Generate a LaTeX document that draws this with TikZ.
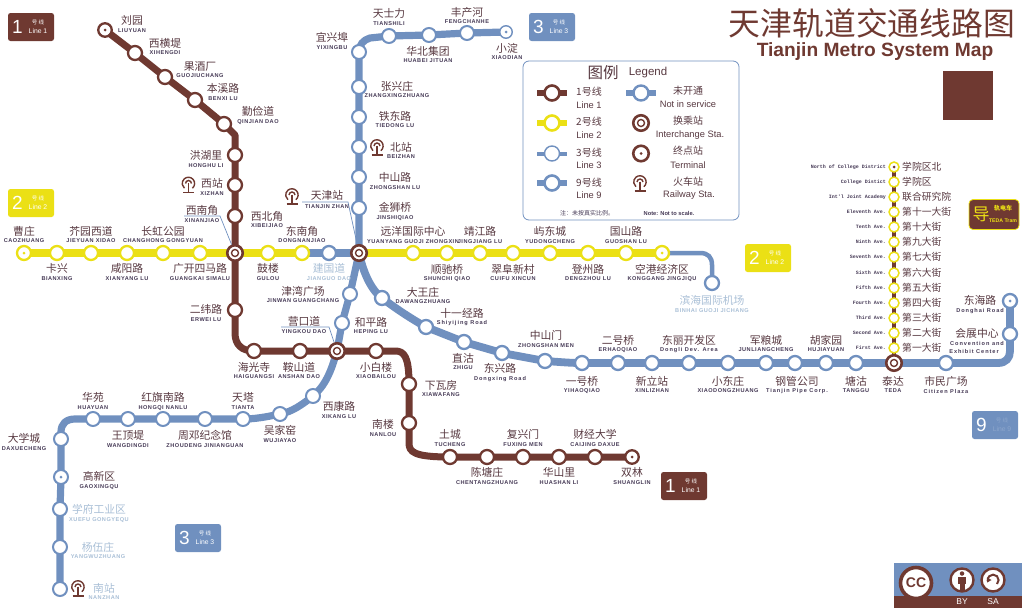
\documentclass[tikz,border=0pt]{standalone}
\usetikzlibrary{shapes.geometric}
\usepackage{fontspec}
\setmainfont{Liberation Sans}
\newfontfamily\cjk{Noto Sans CJK SC}
\newfontfamily\latf[LetterSpace=9]{Liberation Sans}
\newfontfamily\latg[LetterSpace=17]{Liberation Sans}
\newfontfamily\latm{Liberation Mono}
\definecolor{brn}{HTML}{6F3931}
\definecolor{blu}{HTML}{7090BF}
\definecolor{yel}{HTML}{EBE015}
\definecolor{faint}{HTML}{A9BFD6}
\definecolor{ink}{HTML}{573840}
\definecolor{lnk}{HTML}{463A56}
\pgfdeclarelayer{lines}
\pgfsetlayers{lines,main}
\tikzset{
  x=1pt,y=-1pt,
  stbase/.style={circle,fill=white,inner sep=0pt,minimum size=14pt,line width=2.3pt},
  s1/.style={stbase,draw=brn},
  s2/.style={stbase,draw=yel},
  s3/.style={stbase,draw=blu,line width=2pt},
  s9/.style={stbase,draw=blu,line width=2.3pt},
  st/.style={stbase,draw=yel,minimum size=10pt,line width=1.5pt},
  ic/.style={circle,fill=white,draw=brn,inner sep=0pt,minimum size=15.5pt,line width=2.6pt},
  icin/.style={circle,fill=white,draw=brn,inner sep=0pt,minimum size=7pt,line width=1.4pt},
  dt/.style={circle,inner sep=0pt,minimum size=3pt,fill=#1},
  l1/.style={draw=brn,line width=7pt,line join=round},
  l2/.style={draw=yel,line width=7.5pt,line join=round},
  l3/.style={draw=blu,line width=7.2pt,line join=round},
  l9/.style={draw=blu,line width=7.8pt,line join=round},
  ltram/.style={draw=brn,line width=4pt},
  ln/.style={draw=blu,line width=4.5pt},
  lead/.style={draw=blu,line width=0.7pt},
  clab/.style={inner sep=0pt,text=ink,font=\cjk\fontsize{10.8}{12}\selectfont},
  llab/.style={inner sep=0pt,text=lnk,font=\latf\bfseries\fontsize{5.6}{6}\selectfont},
  tlat/.style={inner sep=0pt,anchor=east,text=lnk,font=\latm\bfseries\fontsize{5}{6}\selectfont},
  lgc/.style={inner sep=0pt,text=ink,font=\cjk\fontsize{10}{11}\selectfont},
  lgl/.style={inner sep=0pt,text=ink,font=\fontsize{9.3}{10}\selectfont},
  bd/.style={rounded corners=2.5pt,inner sep=0pt,minimum width=46pt,minimum height=28pt,fill=#1},
}
\newcommand{\mx}[1]{{\latg\bfseries #1}}
% id x ycjk ylat cjk latin
\newcommand{\stlab}[6]{\node[clab] (#1c) at (#2,#3) {#5};\node[llab] (#1l) at (#2,#4) {#6};}
\newcommand{\fadelab}[6]{\node[clab,text=faint] (#1c) at (#2,#3) {#5};\node[llab,text=faint] (#1l) at (#2,#4) {#6};}
\newcommand{\tramlab}[4]{\node[tlat] (#1l) at (886,#2) {#4};\node[clab,anchor=west,font=\cjk\fontsize{9.8}{10}\selectfont] (#1c) at (902,#2) {#3};}
% id cx cy fill num line smalltext colour
\newcommand{\badge}[7]{\node[bd=#4] (#1) at (#2,#3) {};
  \node[inner sep=0pt,text=white,font=\fontsize{19}{19}\selectfont] (#1n) at (#2-13.5,#3) {#5};
  \node[inner sep=0pt,text=#7,font=\cjk\fontsize{5.5}{5.5}\selectfont,text height=4.5pt,text depth=0pt] (#1h) at (#2+7,#3-5) {号 线};
  \node[inner sep=0pt,text=#7,font=\fontsize{6.8}{7}\selectfont,text height=4.5pt,text depth=0pt] (#1t) at (#2+7,#3+4.5) {#6};}
\newcommand{\railicon}[3]{\begin{scope}[shift={(#2,#3)},draw=brn,line width=1.4pt]
  \draw (3.9,4.7) arc[start angle=-50,end angle=230,radius=6.2pt];
  \draw (-3,0) arc[start angle=180,end angle=0,radius=3pt];
  \draw (0,-0.5) -- (0,9);
  \draw (-5.5,9) -- (5.5,9);
\end{scope}}
\begin{document}
\begin{tikzpicture}
\useasboundingbox (0,0) rectangle (1024,608);
% ---- stations line 1
\node[s1,minimum size=13.5pt] (a1) at (105,30) {};
\node[s1] (a2) at (135,53) {};
\node[s1] (a3) at (165,77) {};
\node[s1] (a4) at (195,100) {};
\node[s1] (a5) at (224,124) {};
\node[s1] (a6) at (235,155) {};
\node[s1] (a7) at (235,185) {};
\node[s1] (a8) at (235,216) {};
\node[ic] (x1) at (235,253) {};
\node[s1] (a10) at (235,310) {};
\node[s1] (a11) at (254,351) {};
\node[s1] (a12) at (300,351) {};
\node[ic] (x2) at (337,351) {};
\node[s1] (a14) at (376,351) {};
\node[s1] (a15) at (409,384) {};
\node[s1] (a16) at (409,423) {};
\node[s1] (a17) at (450,457) {};
\node[s1] (a18) at (487,457) {};
\node[s1] (a19) at (523,457) {};
\node[s1] (a20) at (559,457) {};
\node[s1] (a21) at (595,457) {};
\node[s1,minimum size=13.5pt] (a22) at (632,457) {};
% ---- stations line 2
\node[s2] (b1) at (24,253) {};
\node[s2] (b2) at (57,253) {};
\node[s2] (b3) at (91,253) {};
\node[s2] (b4) at (127,253) {};
\node[s2] (b5) at (163,253) {};
\node[s2] (b6) at (200,253) {};
\node[s2] (b7) at (268,253) {};
\node[s2] (b8) at (302,253) {};
\node[ic] (x3) at (359,253) {};
\node[s2] (b9) at (413,253) {};
\node[s2] (b10) at (447,253) {};
\node[s2] (b11) at (480,253) {};
\node[s2] (b12) at (513,253) {};
\node[s2] (b13) at (550,253) {};
\node[s2] (b14) at (588,253) {};
\node[s2] (b15) at (626,253) {};
\node[s2] (b16) at (662,253) {};
\node[s9] (b17) at (712,283) {};
% ---- stations line 3
\node[s3,line width=1.4pt,minimum size=12.5pt] (c1) at (506,32) {};
\node[s3] (c2) at (467,33) {};
\node[s3] (c3) at (429,35) {};
\node[s3] (c4) at (389,36) {};
\node[s3] (c5) at (359,52) {};
\node[s3] (c6) at (359,87) {};
\node[s3] (c7) at (359,117) {};
\node[s3] (c8) at (359,147) {};
\node[s3] (c9) at (359,177) {};
\node[s3] (c10) at (359,208) {};
\node[s3] (c11) at (350,294) {};
\node[s3] (c12) at (342,323) {};
\node[s3] (c13) at (313,396) {};
\node[s3] (c14) at (280,414) {};
\node[s3] (c15) at (243,419) {};
\node[s3] (c16) at (205,419) {};
\node[s3] (c17) at (163,419) {};
\node[s3] (c18) at (128,419) {};
\node[s3] (c19) at (93,419) {};
\node[s3] (c20) at (61,439) {};
\node[s3] (c21) at (61,477) {};
\node[s3] (c22) at (60,509) {};
\node[s3] (c23) at (60,547) {};
\node[s3] (c24) at (60,589) {};
% ---- stations line 9
\node[s9] (d1) at (329,253) {};
\node[s9] (d2) at (382,298) {};
\node[s9] (d3) at (426,327) {};
\node[s9] (d4) at (464,342) {};
\node[s9] (d5) at (502,353) {};
\node[s9] (d6) at (545,361) {};
\node[s9] (d7) at (582,363) {};
\node[s9] (d8) at (618,363) {};
\node[s9] (d9) at (652,363) {};
\node[s9] (d10) at (689,363) {};
\node[s9] (d11) at (728,363) {};
\node[s9] (d12) at (766,363) {};
\node[s9] (d13) at (795,363) {};
\node[s9] (d14) at (826,363) {};
\node[s9] (d15) at (856,363) {};
\node[ic] (x4) at (894,363) {};
\node[s9] (d16) at (946,363) {};
\node[s9] (d17) at (1010,334) {};
\node[s9] (d18) at (1010,301) {};
% ---- tram stations
\node[st] (t1) at (894,167) {};
\node[st] (t2) at (894,182) {};
\node[st] (t3) at (894,197) {};
\node[st] (t4) at (894,212) {};
\node[st] (t5) at (894,227) {};
\node[st] (t6) at (894,242) {};
\node[st] (t7) at (894,257) {};
\node[st] (t8) at (894,273) {};
\node[st] (t9) at (894,288) {};
\node[st] (t10) at (894,303) {};
\node[st] (t11) at (894,318) {};
\node[st] (t12) at (894,333) {};
\node[st] (t13) at (894,348) {};
% ---- interchange inner rings, terminal dots
\node[icin] (x1i) at (x1) {};
\node[icin] (x2i) at (x2) {};
\node[icin] (x3i) at (x3) {};
\node[icin] (x4i) at (x4) {};
\node[dt=brn] (a1d) at (a1) {};
\node[dt=brn] (a22d) at (a22) {};
\node[dt=yel] (b1d) at (b1) {};
\node[dt=yel] (b16d) at (b16) {};
\node[dt=blu] (c1d) at (c1) {};
\node[dt=blu] (c21d) at (c21) {};
\node[dt=blu] (d18d) at (d18) {};
\node[dt=brn] (t1d) at (t1) {};
% ---- connectors
\coordinate (ka1) at (235,135);
\coordinate (ka2) at (395,351);
\coordinate (ka3) at (409,443);
\coordinate (kb1) at (700,253);
\coordinate (kc1) at (370,38);
\coordinate (kc2) at (75,419);
\coordinate (kd1) at (998,363);
\begin{pgfonlayer}{lines}
\draw[l2] (b1.center) -- (b2.center) -- (b3.center) -- (b4.center) -- (b5.center) -- (b6.center) -- (x1.center) -- (b7.center) -- (b8.center);
\draw[l2] (x3.center) -- (b9.center) -- (b10.center) -- (b11.center) -- (b12.center) -- (b13.center) -- (b14.center) -- (b15.center) -- (b16.center);
\draw[ln] (b16.center) -- (kb1) .. controls (708,253) and (712,257) .. (712,265) -- (b17.center);
\draw[l3] (c1.center) -- (c2.center) -- (c3.center) -- (c4.center) -- (kc1) .. controls (363,40) and (359,45) .. (c5.center) -- (c6.center) -- (c7.center) -- (c8.center) -- (c9.center) -- (c10.center) -- (x3.center) -- (c11.center) -- (c12.center) -- (x2.center) .. controls (331,372) and (325,386) .. (c13.center) .. controls (303,404) and (292,412) .. (c14.center) .. controls (266,417) and (255,419) .. (c15.center) -- (c16.center) -- (c17.center) -- (c18.center) -- (c19.center) -- (kc2) .. controls (66,419) and (61,424) .. (61,432) -- (c20.center) -- (c21.center) -- (c22.center) -- (c23.center) -- (c24.center);
\draw[l9] (b8.center) -- (d1.center) -- (x3.center) .. controls (363,272) and (371,290) .. (d2.center) .. controls (395,308) and (410,318) .. (d3.center) -- (d4.center) -- (d5.center) -- (d6.center) .. controls (560,362) and (570,363) .. (d7.center) -- (d8.center) -- (d9.center) -- (d10.center) -- (d11.center) -- (d12.center) -- (d13.center) -- (d14.center) -- (d15.center) -- (x4.center) -- (d16.center) -- (kd1) .. controls (1006,363) and (1010,358) .. (1010,351) -- (d17.center) -- (d18.center);
\draw[l1] (a1.center) -- (a2.center) -- (a3.center) -- (a4.center) -- (a5.center) -- (ka1) -- (a6.center) -- (a7.center) -- (a8.center) -- (x1.center) -- (a10.center) -- (235,333) .. controls (235,345) and (242,351) .. (a11.center) -- (a12.center) -- (x2.center) -- (a14.center) -- (ka2) .. controls (404,351) and (409,356) .. (a15.center) -- (a16.center) -- (ka3) .. controls (409,452) and (414,457) .. (a17.center) -- (a18.center) -- (a19.center) -- (a20.center) -- (a21.center) -- (a22.center);
\draw[ltram] (t1.center) -- (t2.center) -- (t3.center) -- (t4.center) -- (t5.center) -- (t6.center) -- (t7.center) -- (t8.center) -- (t9.center) -- (t10.center) -- (t11.center) -- (t12.center) -- (t13.center) -- (x4.center);
\end{pgfonlayer}
% ---- leaders
\draw[lead] (184,216) -- (220,216) -- (x1);
\draw[lead] (281,327) -- (329,327) -- (x2);
\draw[lead] (302,202) -- (348,202) -- (x3);
% ---- railway icons
\railicon{r1}{188.5}{183.5}
\railicon{r2}{292}{195}
\railicon{r3}{377}{146}
\railicon{r4}{78}{587}
% ---- labels line 1
\stlab{la1}{132}{20}{31}{刘园}{LIUYUAN}
\stlab{la2}{165}{43}{53}{西横堤}{XIHENGDI}
\stlab{la3}{200}{66}{76}{果酒厂}{GUOJIUCHANG}
\stlab{la4}{223}{88}{99}{本溪路}{BENXI LU}
\stlab{la5}{258}{111}{122}{勤俭道}{QINJIAN DAO}
\stlab{la6}{206}{155}{166}{洪湖里}{HONGHU LI}
\stlab{la7}{212}{183}{194}{西站}{XIZHAN}
\stlab{la8}{202}{210}{221}{西南角}{XINANJIAO}
\stlab{la9}{267}{216}{226}{西北角}{XIBEIJIAO}
\stlab{la10}{206}{309}{320}{二纬路}{ERWEI LU}
\stlab{la11}{254}{367}{377}{海光寺}{HAIGUANGSI}
\stlab{la12}{299}{367}{377}{鞍山道}{ANSHAN DAO}
\stlab{la13}{304}{321}{332}{营口道}{YINGKOU DAO}
\stlab{la14}{376}{367}{377}{小白楼}{XIAOBAILOU}
\stlab{la15}{441}{385}{395}{下瓦房}{XIAWAFANG}
\stlab{la16}{383}{424}{435}{南楼}{NANLOU}
\stlab{la17}{450}{434}{445}{土城}{TUCHENG}
\stlab{la18}{487}{472}{483}{陈塘庄}{CHENTANGZHUANG}
\stlab{la19}{523}{434}{445}{复兴门}{FUXING MEN}
\stlab{la20}{559}{472}{483}{华山里}{HUASHAN LI}
\stlab{la21}{595}{434}{445}{财经大学}{CAIJING DAXUE}
\stlab{la22}{632}{472}{483}{双林}{SHUANGLIN}
% ---- labels line 2
\stlab{lb1}{24}{231}{241}{曹庄}{CAOZHUANG}
\stlab{lb2}{57}{268}{279}{卡兴}{BIANXING}
\stlab{lb3}{91}{231}{241}{芥园西道}{JIEYUAN XIDAO}
\stlab{lb4}{127}{268}{279}{咸阳路}{XIANYANG LU}
\stlab{lb5}{163}{231}{241}{长虹公园}{CHANGHONG GONGYUAN}
\stlab{lb6}{200}{268}{279}{广开四马路}{GUANGKAI SIMALU}
\stlab{lb7}{268}{268}{279}{鼓楼}{GULOU}
\stlab{lb8}{302}{231}{241}{东南角}{DONGNANJIAO}
\fadelab{lb9}{329}{268}{279}{建国道}{JIANGUO DAO}
\stlab{lb10}{303}{291}{301}{津湾广场}{JINWAN GUANGCHANG}
\stlab{lb11}{327}{195}{207}{天津站}{TIANJIN ZHAN}
\stlab{lb12}{413}{231}{242}{远洋国际中心}{YUANYANG GUOJI ZHONGXIN}
\stlab{lb13}{447}{269}{279}{顺驰桥}{SHUNCHI QIAO}
\stlab{lb14}{480}{231}{242}{靖江路}{JINGJIANG LU}
\stlab{lb15}{513}{269}{279}{翠阜新村}{CUIFU XINCUN}
\stlab{lb16}{550}{231}{242}{屿东城}{YUDONGCHENG}
\stlab{lb17}{588}{269}{279}{登州路}{DENGZHOU LU}
\stlab{lb18}{626}{231}{242}{国山路}{GUOSHAN LU}
\stlab{lb19}{662}{269}{279}{空港经济区}{KONGGANG JINGJIQU}
\fadelab{lb20}{712}{300}{311}{滨海国际机场}{BINHAI GUOJI JICHANG}
% ---- labels line 3
\stlab{lc1}{507}{48}{58}{小淀}{XIAODIAN}
\stlab{lc2}{467}{12}{22}{丰产河}{FENGCHANHE}
\stlab{lc3}{428}{51}{61}{华北集团}{HUABEI JITUAN}
\stlab{lc4}{389}{13}{24}{天士力}{TIANSHILI}
\stlab{lc5}{332}{37}{48}{宜兴埠}{YIXINGBU}
\stlab{lc6}{397}{86}{96}{张兴庄}{ZHANGXINGZHUANG}
\stlab{lc7}{395}{116}{126}{铁东路}{TIEDONG LU}
\stlab{lc8}{401}{147}{157}{北站}{BEIZHAN}
\stlab{lc9}{395}{177}{188}{中山路}{ZHONGSHAN LU}
\stlab{lc10}{395}{207}{218}{金狮桥}{JINSHIQIAO}
\stlab{lc11}{371}{322}{332}{和平路}{HEPING LU}
\stlab{lc12}{339}{406}{417}{西康路}{XIKANG LU}
\stlab{lc13}{280}{430}{441}{吴家窑}{WUJIAYAO}
\stlab{lc14}{243}{397}{408}{天塔}{TIANTA}
\stlab{lc15}{205}{435}{446}{周邓纪念馆}{ZHOUDENG JINIANGUAN}
\stlab{lc16}{163}{397}{408}{红旗南路}{HONGQI NANLU}
\stlab{lc17}{128}{435}{446}{王顶堤}{WANGDINGDI}
\stlab{lc18}{93}{397}{408}{华苑}{HUAYUAN}
\stlab{lc19}{24}{438}{449}{大学城}{DAXUECHENG}
\stlab{lc20}{99}{476}{487}{高新区}{GAOXINGQU}
\fadelab{lc21}{99}{509}{520}{学府工业区}{XUEFU GONGYEQU}
\fadelab{lc22}{98}{547}{557}{杨伍庄}{YANGWUZHUANG}
\fadelab{lc23}{104}{588}{598}{南站}{NANZHAN}
% ---- labels line 9
\stlab{ld1}{423}{292}{302}{大王庄}{DAWANGZHUANG}
\stlab{ld2}{462}{313}{323}{十一经路}{\mx{Shiyijing Road}}
\stlab{ld3}{463}{358}{368}{直沽}{ZHIGU}
\stlab{ld4}{500}{368}{379}{东兴路}{\mx{Dongxing Road}}
\stlab{ld5}{546}{335}{346}{中山门}{ZHONGSHAN MEN}
\stlab{ld6}{582}{381}{391}{一号桥}{YIHAOQIAO}
\stlab{ld7}{618}{340}{350}{二号桥}{ERHAOQIAO}
\stlab{ld8}{652}{381}{391}{新立站}{XINLIZHAN}
\stlab{ld9}{689}{340}{350}{东丽开发区}{\mx{Dongli Dev. Area}}
\stlab{ld10}{728}{381}{391}{小东庄}{XIAODONGZHUANG}
\stlab{ld11}{766}{340}{350}{军粮城}{JUNLIANGCHENG}
\stlab{ld12}{797}{381}{391}{钢管公司}{\mx{Tianjin Pipe Corp.}}
\stlab{ld13}{826}{340}{350}{胡家园}{HUJIAYUAN}
\stlab{ld14}{856}{381}{391}{塘沽}{TANGGU}
\stlab{ld15}{893}{381}{391}{泰达}{TEDA}
\stlab{ld16}{946}{381}{391}{市民广场}{\mx{Citizen Plaza}}
\stlab{ld17}{977}{333}{343}{会展中心}{\mx{Convention and}}
\node[llab] (ld17m) at (974,351) {\mx{Exhibit Center}};
\stlab{ld18}{980}{300}{311}{东海路}{\mx{Donghai Road}}
% ---- tram labels
\tramlab{lt1}{167}{学院区北}{North of College District}
\tramlab{lt2}{182}{学院区}{College Distict}
\tramlab{lt3}{197}{联合研究院}{Int'l Joint Academy}
\tramlab{lt4}{212}{第十一大街}{Eleventh Ave.}
\tramlab{lt5}{227}{第十大街}{Tenth Ave.}
\tramlab{lt6}{242}{第九大街}{Ninth Ave.}
\tramlab{lt7}{257}{第七大街}{Seventh Ave.}
\tramlab{lt8}{273}{第六大街}{Sixth Ave.}
\tramlab{lt9}{288}{第五大街}{Fifth Ave.}
\tramlab{lt10}{303}{第四大街}{Fourth Ave.}
\tramlab{lt11}{318}{第三大街}{Third Ave.}
\tramlab{lt12}{333}{第二大街}{Second Ave.}
\tramlab{lt13}{348}{第一大街}{First Ave.}
% ---- badges
\badge{ba}{31}{27}{brn}{1}{Line 1}{white}
\badge{bb}{31}{203}{yel}{2}{Line 2}{white}
\badge{bc}{768}{258}{yel}{2}{Line 2}{white}
\badge{bd}{552}{27}{blu}{3}{Line 3}{white}
\badge{be}{198}{538}{blu}{3}{Line 3}{white}
\badge{bf}{684}{486}{brn}{1}{Line 1}{white}
\badge{bg}{995}{425}{blu}{9}{Line 9}{blu!80!white}
\node[draw=yel,fill=brn,line width=0.8pt,rounded corners=4pt,inner sep=0pt,minimum width=50pt,minimum height=30pt] (bt) at (994,214.5) {};
\node[inner sep=0pt,text=yel,font=\cjk\fontsize{17}{17}\selectfont] (bt1) at (981,214) {导};
\node[inner sep=0pt,text=yel,font=\cjk\bfseries\fontsize{6}{6}\selectfont] (bt2) at (1003,208) {轨电车};
\node[inner sep=0pt,text=yel,font=\bfseries\fontsize{5.2}{6}\selectfont] (bt3) at (1003,220.5) {TEDA Tram};
% ---- title
\node[inner sep=0pt,text=brn,font=\cjk\fontsize{31.8}{34}\selectfont] (title) at (872,23) {天津轨道交通线路图};
\node[inner sep=0pt,text=brn,font=\bfseries\fontsize{19.2}{20}\selectfont] (subtitle) at (875,52) {Tianjin Metro System Map};
\node[fill=brn,inner sep=0pt,minimum width=50pt,minimum height=49pt] (sq) at (968,95.5) {};
% ---- legend
\node[draw=blu,line width=0.8pt,rounded corners=6pt,inner sep=0pt,minimum width=216pt,minimum height=159pt] (lgbox) at (631,140.5) {};
\node[inner sep=0pt,text=ink,font=\cjk\fontsize{15.5}{16}\selectfont] (lgt1) at (603,73) {图例};
\node[inner sep=0pt,text=ink,font=\fontsize{11.5}{12}\selectfont] (lgt2) at (648,73) {Legend};
\coordinate (g1a) at (537,93); \coordinate (g1b) at (567,93);
\coordinate (g2a) at (537,123); \coordinate (g2b) at (567,123);
\coordinate (g3a) at (537,153.5); \coordinate (g3b) at (567,153.5);
\coordinate (g4a) at (537,183); \coordinate (g4b) at (567,183);
\coordinate (g5a) at (626,93); \coordinate (g5b) at (656,93);
\begin{pgfonlayer}{lines}
\draw[draw=brn,line width=6.5pt] (g1a) -- (g1b);
\draw[draw=yel,line width=6.5pt] (g2a) -- (g2b);
\draw[draw=blu,line width=4pt] (g3a) -- (g3b);
\draw[draw=blu,line width=6.5pt] (g4a) -- (g4b);
\draw[draw=blu,line width=6pt] (g5a) -- (g5b);
\end{pgfonlayer}
\node[s1,minimum size=15pt,line width=2.6pt] (gs1) at (552,93) {};
\node[s2,minimum size=15pt,line width=2.6pt] (gs2) at (552,123) {};
\node[s3,minimum size=15pt,line width=1.4pt] (gs3) at (552,153.5) {};
\node[s9,minimum size=15pt,line width=2.6pt] (gs4) at (552,183) {};
\node[s9,minimum size=15pt,line width=2.4pt] (gs5) at (641,93) {};
\node[ic] (gs6) at (641,123) {};
\node[icin] (gs6i) at (gs6) {};
\node[ic] (gs7) at (641,153.5) {};
\node[dt=brn] (gs7d) at (gs7) {};
\railicon{r5}{640}{182}
\node[lgc] (gt1a) at (589,92) {1号线}; \node[lgl] (gt1b) at (589,105) {Line 1};
\node[lgc] (gt2a) at (589,122) {2号线}; \node[lgl] (gt2b) at (589,135) {Line 2};
\node[lgc] (gt3a) at (589,153) {3号线}; \node[lgl] (gt3b) at (589,165) {Line 3};
\node[lgc] (gt4a) at (589,183) {9号线}; \node[lgl] (gt4b) at (589,195) {Line 9};
\node[lgc] (gt5a) at (688,91) {未开通}; \node[lgl] (gt5b) at (688,104) {Not in service};
\node[lgc] (gt6a) at (688,121) {换乘站}; \node[lgl] (gt6b) at (690,135) {Interchange Sta.};
\node[lgc] (gt7a) at (688,151) {终点站}; \node[lgl] (gt7b) at (688,165) {Terminal};
\node[lgc] (gt8a) at (688,182) {火车站}; \node[lgl] (gt8b) at (689,195) {Railway Sta.};
\node[inner sep=0pt,text=lnk,font=\cjk\fontsize{6}{6}\selectfont] (gn1) at (587,213) {注：未按真实比例。};
\node[inner sep=0pt,text=lnk,font=\bfseries\fontsize{5.7}{6}\selectfont] (gn2) at (669,213) {Note: Not to scale.};
% ---- cc badge
\node[fill=blu,inner sep=0pt,minimum width=128pt,minimum height=45pt] (cc) at (958,585.5) {};
\node[fill=brn,inner sep=0pt,minimum width=128pt,minimum height=12pt] (ccb) at (958,602) {};
\node[circle,fill=white,draw=brn,line width=3.6pt,inner sep=0pt,minimum size=31pt,text=brn,font=\bfseries\fontsize{14}{14}\selectfont] (cc1) at (916,583) {CC};
\node[circle,fill=white,draw=brn,line width=2.4pt,inner sep=0pt,minimum size=23pt] (cc2) at (962,580) {};
\node[circle,fill=white,draw=brn,line width=2.4pt,inner sep=0pt,minimum size=23pt] (cc3) at (993,580) {};
\node[circle,fill=brn,inner sep=0pt,minimum size=4.5pt] (cch) at (962,573.5) {};
\draw[fill=brn,draw=none] (958,577) rectangle (966,584);
\draw[fill=brn,draw=none] (959.5,584) rectangle (964.5,590);
\draw[draw=brn,line width=2pt] (997,584) arc[start angle=-45,end angle=190,radius=5.5pt];
\node[draw=none,fill=brn,regular polygon,regular polygon sides=3,shape border rotate=-90,inner sep=0pt,minimum size=6pt] (ccar) at (988.5,580) {};
\node[inner sep=0pt,text=white,font=\fontsize{8.5}{9}\selectfont] (ccby) at (962,602) {BY};
\node[inner sep=0pt,text=white,font=\fontsize{8.5}{9}\selectfont] (ccsa) at (993,602) {SA};
\end{tikzpicture}
\end{document}
